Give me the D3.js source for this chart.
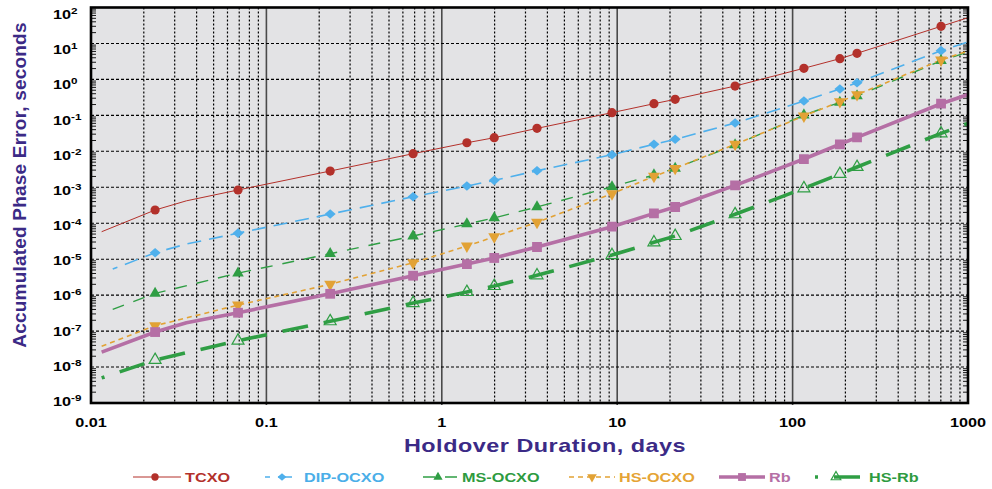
<!DOCTYPE html>
<html>
<head>
<meta charset="utf-8">
<script src="https://cdn.jsdelivr.net/npm/d3@7"></script>
<style>
  html, body { margin: 0; padding: 0; background: #ffffff; }
  svg { display: block; font-family: "Liberation Sans", Arial, sans-serif; }
</style>
</head>
<body>
<svg id="chart" width="992" height="489"></svg>
<script>
// ---------------- DATA ----------------
const markerDays = [0.0232, 0.0689, 0.231, 0.686, 1.39, 1.99, 3.49, 9.34, 16.2, 21.4, 47, 116, 186, 233, 702];

const tcxo    = [2.33e-4, 8.4e-4, 2.83e-3, 8.6e-3, 0.0173, 0.0239, 0.0435, 0.119, 0.211, 0.279, 0.654, 2.04, 3.77, 5.32, 30];
const dipOcxo = [1.51e-5, 5.3e-5, 1.8e-4, 5.46e-4, 1.08e-3, 1.56e-3, 2.88e-3, 8.05e-3, 0.0157, 0.0216, 0.0612, 0.25, 0.54, 0.81, 6.3];
const msOcxo  = [1.12e-6, 4.1e-6, 1.42e-5, 4.4e-5, 9.5e-5, 1.40e-4, 2.83e-4, 1.03e-3, 2.19e-3, 3.36e-3, 0.015, 0.102, 0.23, 0.345, 3.3];
const hsOcxo  = [1.41e-7, 5.3e-7, 2.0e-6, 7.96e-6, 2.32e-5, 4.2e-5, 1.06e-4, 6.6e-4, 2.02e-3, 3.36e-3, 0.0157, 0.096, 0.24, 0.376, 3.47];
const rb      = [9.4e-8, 3.24e-7, 1.09e-6, 3.47e-6, 7.3e-6, 1.08e-5, 2.18e-5, 8.0e-5, 1.88e-4, 2.83e-4, 1.13e-3, 6.1e-3, 0.0157, 0.0245, 0.211];
const hsRb    = [1.57e-8, 5.4e-8, 1.87e-7, 6.0e-7, 1.22e-6, 1.79e-6, 3.55e-6, 1.30e-5, 2.94e-5, 4.4e-5, 1.77e-4, 9.35e-4, 2.34e-3, 3.66e-3, 0.0316];

// unmarked curve points (start, bends, end): [days, seconds]
const tcxoExtra    = [[0.0115, 5.8e-5], [0.035, 4.2e-4], [1000, 52]];
const dipOcxoExtra = [[0.0133, 5.3e-6], [0.035, 2.64e-5], [1000, 11]];
const msOcxoExtra  = [[0.0133, 4.0e-7], [1000, 5.8]];
const hsOcxoExtra  = [[0.0115, 3.8e-8], [1000, 6.2]];
const rbExtra      = [[0.0115, 2.6e-8], [0.035, 1.7e-7], [1000, 0.38]];
const hsRbExtra    = [[0.0115, 5.0e-9], [1000, 0.06]];

const seriesNames = ["TCXO", "DIP-OCXO", "MS-OCXO", "HS-OCXO", "Rb", "HS-Rb"];
const xTickLabels = ["0.01", "0.1", "1", "10", "100", "1000"];
const yTickExponents = [2, 1, 0, -1, -2, -3, -4, -5, -6, -7, -8, -9];

const xTitle = "Holdover Duration, days";
const yTitle = "Accumulated Phase Error, seconds";

// ---------------- STYLES ----------------
const styles = [
  { values: tcxo,    extra: tcxoExtra,    color: "#b3312b", text: "#b3312b", width: 1,   dash: null,    offset: 0,  marker: "circle" },
  { values: dipOcxo, extra: dipOcxoExtra, color: "#4fb0ec", text: "#4aaee8", width: 1.6, dash: "14,8",  offset: 9,  marker: "diamond" },
  { values: msOcxo,  extra: msOcxoExtra,  color: "#2f9e44", text: "#2e9b3f", width: 1.4, dash: "12,10", offset: 0,  marker: "triUp" },
  { values: hsOcxo,  extra: hsOcxoExtra,  color: "#e2a235", text: "#e5a435", width: 1.6, dash: "5,4",   offset: 0,  marker: "triDown" },
  { values: rb,      extra: rbExtra,      color: "#b56fa5", text: "#b56fa5", width: 3.6, dash: null,    offset: 0,  marker: "square" },
  { values: hsRb,    extra: hsRbExtra,    color: "#2f9e44", text: "#2e9b3f", width: 3.6, dash: "26,16", offset: 23, marker: "triOpen" }
];

// ---------------- LAYOUT ----------------
const X0 = 91, X1 = 968, Y0 = 7.5, Y1 = 403;
const STRETCH = 1.3;
const titleColor = "#3b2a86";

const svg = d3.select("#chart");
const x = d3.scaleLog().domain([0.01, 1000]).range([X0, X1]);
const y = d3.scaleLog().domain([1e-9, 1e2]).range([Y1, Y0]);
// label baselines drift slightly in the reference
const yLab = d3.scaleLog().domain([1e-9, 1e2]).range([406, 19]);

function stext(parent, px, py, str, o) {
  const g = parent.append("g").attr("transform", `translate(${px},${py}) scale(${o.sx || STRETCH},1)`);
  return g.append("text")
    .attr("text-anchor", o.anchor || "start")
    .attr("font-size", o.size)
    .attr("font-weight", "bold")
    .attr("letter-spacing", o.spacing || 0)
    .attr("fill", o.fill || "#000")
    .text(str);
}

// plot background
svg.append("rect").attr("x", X0).attr("y", Y0).attr("width", X1 - X0).attr("height", Y1 - Y0).attr("fill", "#e3e3e5");

const grid = svg.append("g");
// vertical grid
for (let k = -2; k <= 2; k++) {
  for (let m = 1; m <= 9; m++) {
    const v = m * Math.pow(10, k);
    if (v <= 0.01 || v >= 1000) continue;
    const px = x(v);
    if (m === 1) {
      grid.append("line").attr("x1", px).attr("x2", px).attr("y1", Y0).attr("y2", Y1 + 2)
        .attr("stroke", "#4a4a4a").attr("stroke-width", 1.6);
    } else {
      grid.append("line").attr("x1", px).attr("x2", px).attr("y1", Y0).attr("y2", Y1)
        .attr("stroke", "#000").attr("stroke-width", 1.2).attr("stroke-dasharray", "2,2");
    }
  }
}
// horizontal grid (decades)
yTickExponents.forEach(e => {
  const v = Math.pow(10, e);
  if (e === 2 || e === -9) return;
  grid.append("line").attr("x1", X0).attr("x2", X1).attr("y1", y(v)).attr("y2", y(v))
    .attr("stroke", "#000").attr("stroke-width", 1.1).attr("stroke-dasharray", "3,2");
});
// y minor ticks inside on both sides
for (let k = -9; k <= 1; k++) {
  for (let m = 2; m <= 9; m++) {
    const py = y(m * Math.pow(10, k));
    grid.append("line").attr("x1", X0).attr("x2", X0 + 5).attr("y1", py).attr("y2", py).attr("stroke", "#000").attr("stroke-width", 0.9);
    grid.append("line").attr("x1", X1 - 5).attr("x2", X1).attr("y1", py).attr("y2", py).attr("stroke", "#000").attr("stroke-width", 0.9);
  }
}

// clip
svg.append("clipPath").attr("id", "plotclip").append("rect")
  .attr("x", X0).attr("y", Y0).attr("width", X1 - X0).attr("height", Y1 - Y0);

// marker drawing
function drawMarker(g, type, color, size) {
  const s = size || 1;
  if (type === "circle") {
    return g.append("circle").attr("r", 4.6 * s).attr("fill", color);
  } else if (type === "diamond") {
    const w = 5.5 * s, h = 4.8 * s;
    return g.append("path").attr("d", `M${-w},0L0,${-h}L${w},0L0,${h}Z`).attr("fill", color);
  } else if (type === "triUp") {
    return g.append("path").attr("d", d3.symbol().type(d3.symbolTriangle).size(58 * s * s)()).attr("fill", color);
  } else if (type === "triDown") {
    return g.append("path").attr("d", d3.symbol().type(d3.symbolTriangle).size(62 * s * s)())
      .attr("transform", "rotate(180)").attr("fill", color);
  } else if (type === "square") {
    return g.append("path").attr("d", d3.symbol().type(d3.symbolSquare).size(96 * s * s)()).attr("fill", color);
  } else if (type === "triOpen") {
    return g.append("path").attr("d", d3.symbol().type(d3.symbolTriangle).size(62 * s * s)())
      .attr("fill", "none").attr("stroke", color).attr("stroke-width", 1.2);
  }
}

const lineGen = d3.line().x(d => x(d[0])).y(d => y(d[1]));
const plot = svg.append("g").attr("clip-path", "url(#plotclip)");

styles.forEach(s => {
  const pts = markerDays.map((d, i) => [d, s.values[i]]).concat(s.extra).sort((a, b) => a[0] - b[0]);
  const p = plot.append("path").datum(pts).attr("d", lineGen)
    .attr("fill", "none").attr("stroke", s.color).attr("stroke-width", s.width)
    .attr("stroke-linejoin", "round");
  if (s.dash) p.attr("stroke-dasharray", s.dash).attr("stroke-dashoffset", s.offset);
});
styles.forEach(s => {
  markerDays.forEach((d, i) => {
    const g = plot.append("g").attr("transform", `translate(${x(d)},${y(s.values[i])})`);
    drawMarker(g, s.marker, s.color);
  });
});

// border
svg.append("rect").attr("x", X0).attr("y", Y0).attr("width", X1 - X0).attr("height", Y1 - Y0)
  .attr("fill", "none").attr("stroke", "#000").attr("stroke-width", 2.6);

// x tick labels
xTickLabels.forEach(t => {
  stext(svg, x(+t), 426.5, t, { size: 12.5, anchor: "middle" });
});

// y tick labels
yTickExponents.forEach(e => {
  const g = svg.append("g").attr("transform", `translate(53,${yLab(Math.pow(10, e))}) scale(${STRETCH},1)`);
  const t = g.append("text").attr("font-size", 12.5).attr("font-weight", "bold").attr("fill", "#000");
  t.append("tspan").text("10");
  t.append("tspan").attr("font-size", 9).attr("dy", -5).text(String(e).replace("-", "-"));
});

// axis titles
stext(svg, 545, 451.5, xTitle, { size: 18, anchor: "middle", fill: titleColor, spacing: 0.4 });
svg.append("text")
  .attr("transform", "translate(26,185) rotate(-90)")
  .attr("text-anchor", "middle").attr("font-size", 19).attr("font-weight", "bold")
  .attr("letter-spacing", 0.2).attr("fill", titleColor).text(yTitle);

// legend
const legX = [133, 265, 423, 569, 719, 815];
const legLen = [48, 35, 35, 46, 46, 50];
const legMark = [22, 17, 15, 23, 23, 21];
const LY = 477;
styles.forEach((s, i) => {
  const g = svg.append("g");
  const l = g.append("line").attr("x1", legX[i]).attr("x2", legX[i] + legLen[i]).attr("y1", LY).attr("y2", LY)
    .attr("stroke", s.color).attr("stroke-width", s.width);
  if (s.dash) l.attr("stroke-dasharray", s.dash).attr("stroke-dashoffset", s.offset);
  const mg = g.append("g").attr("transform", `translate(${legX[i] + legMark[i]},${LY})`);
  drawMarker(mg, s.marker, s.color, 0.8);
  stext(g, legX[i] + legLen[i] + 4, 482, seriesNames[i], { size: 12.5, fill: s.text });
});
</script>
</body>
</html>
